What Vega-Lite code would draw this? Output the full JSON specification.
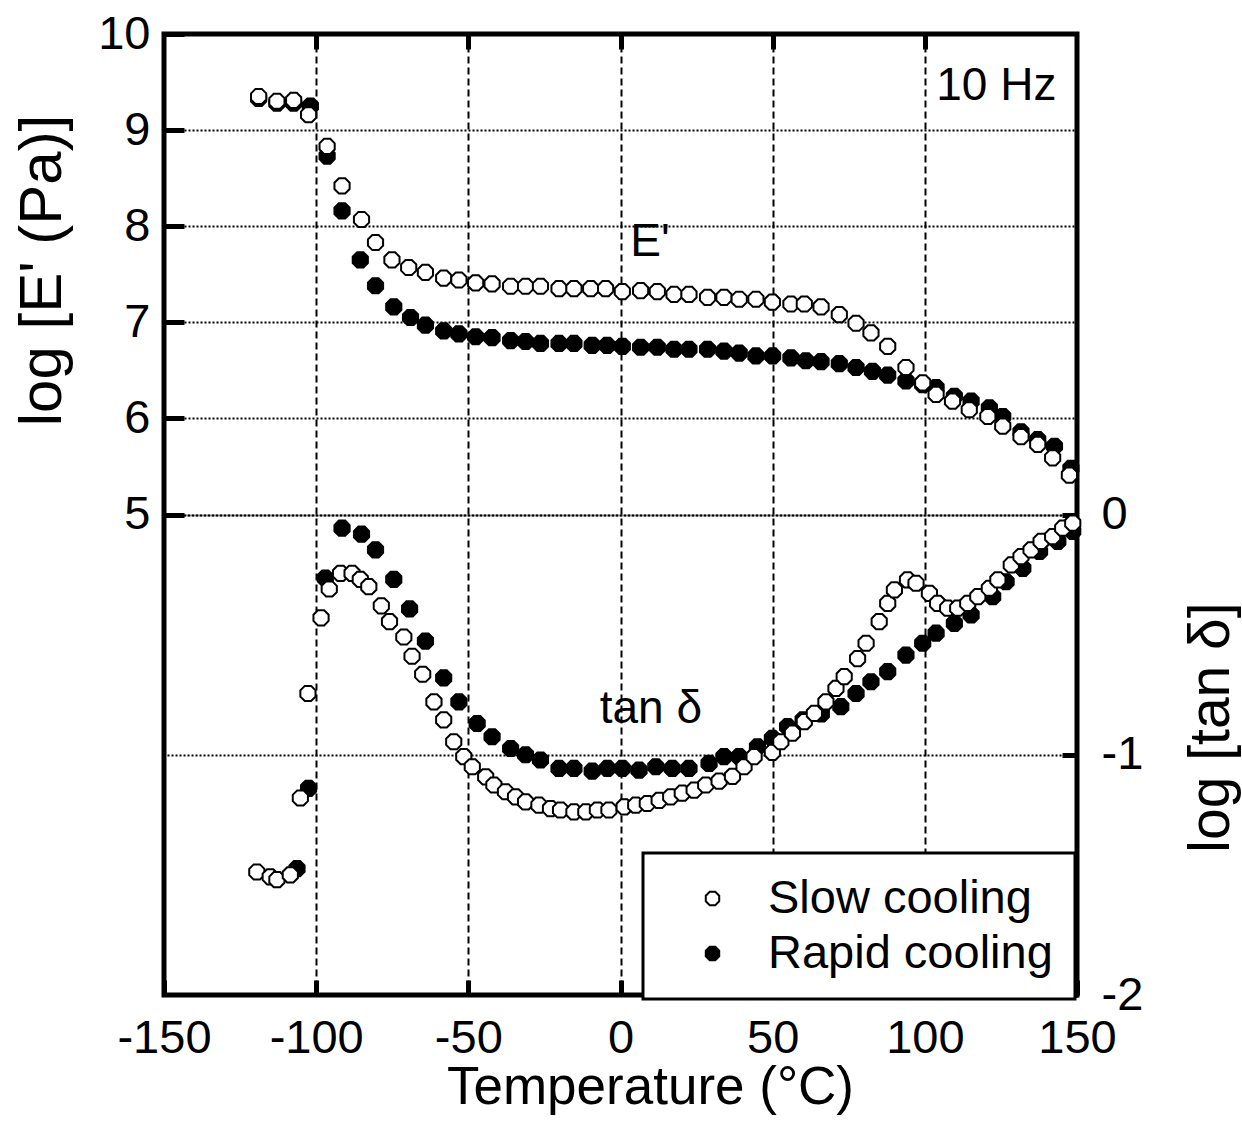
{
  "$schema": "https://vega.github.io/schema/vega-lite/v6.json",
  "width": 913,
  "height": 961,
  "autosize": {"type": "none"},
  "padding": {"left": 164, "top": 34, "right": 165, "bottom": 128},
  "background": "white",
  "config": {
    "font": "Liberation Sans",
    "view": {"stroke": "black", "strokeWidth": 5},
    "axis": {
      "domain": false,
      "labelFont": "Liberation Sans",
      "labelFontSize": 47,
      "labelColor": "black",
      "labelFlush": false,
      "labelOverlap": false,
      "labelExpr": "datum.value + ''",
      "titleFont": "Liberation Sans",
      "titleFontWeight": "normal",
      "titleColor": "black",
      "tickColor": "black",
      "tickWidth": 5,
      "gridColor": "black",
      "gridWidth": 2,
      "gridOpacity": 1
    },
    "legend": {
      "orient": "none",
      "legendX": 479,
      "legendY": 819,
      "fillColor": "white",
      "strokeColor": "black",
      "strokeWidth": 3,
      "padding": 22,
      "labelFont": "Liberation Sans",
      "labelFontSize": 47,
      "labelColor": "black",
      "labelLimit": 0,
      "symbolSize": 180,
      "symbolType": "M-0.414,-1L0.414,-1L1,-0.414L1,0.414L0.414,1L-0.414,1L-1,0.414L-1,-0.414Z",
      "symbolStrokeColor": "black",
      "symbolStrokeWidth": 2,
      "symbolOffset": 24,
      "labelOffset": 32,
      "rowPadding": 7
    }
  },
  "datasets": {
    "E": [
      {"cooling":"Rapid cooling","T":-118.9,"logE":9.33},{"cooling":"Rapid cooling","T":-112.9,"logE":9.28},{"cooling":"Rapid cooling","T":-107.4,"logE":9.28},{"cooling":"Rapid cooling","T":-101.9,"logE":9.25},{"cooling":"Rapid cooling","T":-96.4,"logE":8.73},{"cooling":"Rapid cooling","T":-91.5,"logE":8.16},{"cooling":"Rapid cooling","T":-85.5,"logE":7.65},{"cooling":"Rapid cooling","T":-80.5,"logE":7.38},{"cooling":"Rapid cooling","T":-74.5,"logE":7.16},{"cooling":"Rapid cooling","T":-69.0,"logE":7.05},{"cooling":"Rapid cooling","T":-64.1,"logE":6.97},{"cooling":"Rapid cooling","T":-58.1,"logE":6.91},{"cooling":"Rapid cooling","T":-53.1,"logE":6.88},{"cooling":"Rapid cooling","T":-47.6,"logE":6.85},{"cooling":"Rapid cooling","T":-42.2,"logE":6.84},{"cooling":"Rapid cooling","T":-36.1,"logE":6.81},{"cooling":"Rapid cooling","T":-31.2,"logE":6.80},{"cooling":"Rapid cooling","T":-26.3,"logE":6.78},{"cooling":"Rapid cooling","T":-20.2,"logE":6.78},{"cooling":"Rapid cooling","T":-15.3,"logE":6.78},{"cooling":"Rapid cooling","T":-9.3,"logE":6.76},{"cooling":"Rapid cooling","T":-4.4,"logE":6.76},{"cooling":"Rapid cooling","T":0.6,"logE":6.75},{"cooling":"Rapid cooling","T":6.6,"logE":6.74},{"cooling":"Rapid cooling","T":12.1,"logE":6.74},{"cooling":"Rapid cooling","T":17.6,"logE":6.72},{"cooling":"Rapid cooling","T":22.5,"logE":6.72},{"cooling":"Rapid cooling","T":28.6,"logE":6.72},{"cooling":"Rapid cooling","T":34.0,"logE":6.70},{"cooling":"Rapid cooling","T":39.0,"logE":6.68},{"cooling":"Rapid cooling","T":44.5,"logE":6.65},{"cooling":"Rapid cooling","T":50.0,"logE":6.65},{"cooling":"Rapid cooling","T":56.0,"logE":6.63},{"cooling":"Rapid cooling","T":60.9,"logE":6.60},{"cooling":"Rapid cooling","T":65.9,"logE":6.59},{"cooling":"Rapid cooling","T":71.9,"logE":6.57},{"cooling":"Rapid cooling","T":77.4,"logE":6.53},{"cooling":"Rapid cooling","T":82.8,"logE":6.49},{"cooling":"Rapid cooling","T":87.8,"logE":6.45},{"cooling":"Rapid cooling","T":93.8,"logE":6.39},{"cooling":"Rapid cooling","T":99.3,"logE":6.35},{"cooling":"Rapid cooling","T":103.7,"logE":6.32},{"cooling":"Rapid cooling","T":109.7,"logE":6.23},{"cooling":"Rapid cooling","T":115.2,"logE":6.18},{"cooling":"Rapid cooling","T":121.2,"logE":6.11},{"cooling":"Rapid cooling","T":125.6,"logE":6.02},{"cooling":"Rapid cooling","T":131.6,"logE":5.86},{"cooling":"Rapid cooling","T":137.1,"logE":5.78},{"cooling":"Rapid cooling","T":142.6,"logE":5.71},{"cooling":"Rapid cooling","T":148.0,"logE":5.48},
      {"cooling":"Slow cooling","T":-118.9,"logE":9.35},{"cooling":"Slow cooling","T":-112.9,"logE":9.30},{"cooling":"Slow cooling","T":-107.4,"logE":9.31},{"cooling":"Slow cooling","T":-102.5,"logE":9.16},{"cooling":"Slow cooling","T":-96.4,"logE":8.83},{"cooling":"Slow cooling","T":-91.5,"logE":8.42},{"cooling":"Slow cooling","T":-85.1,"logE":8.07},{"cooling":"Slow cooling","T":-80.5,"logE":7.83},{"cooling":"Slow cooling","T":-75.1,"logE":7.65},{"cooling":"Slow cooling","T":-69.6,"logE":7.57},{"cooling":"Slow cooling","T":-64.1,"logE":7.52},{"cooling":"Slow cooling","T":-58.1,"logE":7.46},{"cooling":"Slow cooling","T":-53.1,"logE":7.44},{"cooling":"Slow cooling","T":-47.6,"logE":7.41},{"cooling":"Slow cooling","T":-42.2,"logE":7.40},{"cooling":"Slow cooling","T":-36.1,"logE":7.375},{"cooling":"Slow cooling","T":-31.2,"logE":7.375},{"cooling":"Slow cooling","T":-26.3,"logE":7.375},{"cooling":"Slow cooling","T":-20.2,"logE":7.35},{"cooling":"Slow cooling","T":-15.3,"logE":7.35},{"cooling":"Slow cooling","T":-9.8,"logE":7.35},{"cooling":"Slow cooling","T":-4.9,"logE":7.35},{"cooling":"Slow cooling","T":0.6,"logE":7.32},{"cooling":"Slow cooling","T":6.6,"logE":7.33},{"cooling":"Slow cooling","T":12.1,"logE":7.32},{"cooling":"Slow cooling","T":17.6,"logE":7.29},{"cooling":"Slow cooling","T":22.5,"logE":7.29},{"cooling":"Slow cooling","T":28.6,"logE":7.26},{"cooling":"Slow cooling","T":34.0,"logE":7.26},{"cooling":"Slow cooling","T":39.0,"logE":7.24},{"cooling":"Slow cooling","T":44.5,"logE":7.24},{"cooling":"Slow cooling","T":49.9,"logE":7.21},{"cooling":"Slow cooling","T":56.0,"logE":7.19},{"cooling":"Slow cooling","T":60.4,"logE":7.19},{"cooling":"Slow cooling","T":65.9,"logE":7.16},{"cooling":"Slow cooling","T":71.9,"logE":7.08},{"cooling":"Slow cooling","T":77.4,"logE":6.99},{"cooling":"Slow cooling","T":82.3,"logE":6.89},{"cooling":"Slow cooling","T":87.8,"logE":6.75},{"cooling":"Slow cooling","T":93.8,"logE":6.53},{"cooling":"Slow cooling","T":99.3,"logE":6.37},{"cooling":"Slow cooling","T":103.7,"logE":6.25},{"cooling":"Slow cooling","T":109.1,"logE":6.18},{"cooling":"Slow cooling","T":114.6,"logE":6.09},{"cooling":"Slow cooling","T":120.7,"logE":6.02},{"cooling":"Slow cooling","T":125.6,"logE":5.92},{"cooling":"Slow cooling","T":131.6,"logE":5.81},{"cooling":"Slow cooling","T":137.1,"logE":5.73},{"cooling":"Slow cooling","T":142.0,"logE":5.59},{"cooling":"Slow cooling","T":147.5,"logE":5.41}
    ],
    "tan": [
      {"cooling":"Rapid cooling","T":-106.3,"logtan":-1.474},{"cooling":"Rapid cooling","T":-102.5,"logtan":-1.14},{"cooling":"Rapid cooling","T":-97.0,"logtan":-0.265},{"cooling":"Rapid cooling","T":-91.5,"logtan":-0.057},{"cooling":"Rapid cooling","T":-85.1,"logtan":-0.082},{"cooling":"Rapid cooling","T":-80.5,"logtan":-0.147},{"cooling":"Rapid cooling","T":-74.5,"logtan":-0.27},{"cooling":"Rapid cooling","T":-69.3,"logtan":-0.393},{"cooling":"Rapid cooling","T":-64.1,"logtan":-0.527},{"cooling":"Rapid cooling","T":-58.1,"logtan":-0.68},{"cooling":"Rapid cooling","T":-53.1,"logtan":-0.78},{"cooling":"Rapid cooling","T":-47.1,"logtan":-0.87},{"cooling":"Rapid cooling","T":-42.2,"logtan":-0.925},{"cooling":"Rapid cooling","T":-36.1,"logtan":-0.974},{"cooling":"Rapid cooling","T":-31.2,"logtan":-1.0},{"cooling":"Rapid cooling","T":-26.3,"logtan":-1.022},{"cooling":"Rapid cooling","T":-20.2,"logtan":-1.057},{"cooling":"Rapid cooling","T":-15.3,"logtan":-1.057},{"cooling":"Rapid cooling","T":-9.3,"logtan":-1.068},{"cooling":"Rapid cooling","T":-4.3,"logtan":-1.057},{"cooling":"Rapid cooling","T":0.6,"logtan":-1.057},{"cooling":"Rapid cooling","T":6.1,"logtan":-1.064},{"cooling":"Rapid cooling","T":11.6,"logtan":-1.05},{"cooling":"Rapid cooling","T":17.0,"logtan":-1.057},{"cooling":"Rapid cooling","T":22.5,"logtan":-1.057},{"cooling":"Rapid cooling","T":29.1,"logtan":-1.036},{"cooling":"Rapid cooling","T":34.0,"logtan":-1.008},{"cooling":"Rapid cooling","T":39.0,"logtan":-1.008},{"cooling":"Rapid cooling","T":45.0,"logtan":-0.967},{"cooling":"Rapid cooling","T":49.9,"logtan":-0.932},{"cooling":"Rapid cooling","T":54.9,"logtan":-0.883},{"cooling":"Rapid cooling","T":60.0,"logtan":-0.855},{"cooling":"Rapid cooling","T":66.0,"logtan":-0.83},{"cooling":"Rapid cooling","T":72.4,"logtan":-0.8},{"cooling":"Rapid cooling","T":77.4,"logtan":-0.745},{"cooling":"Rapid cooling","T":82.3,"logtan":-0.696},{"cooling":"Rapid cooling","T":87.8,"logtan":-0.654},{"cooling":"Rapid cooling","T":93.8,"logtan":-0.585},{"cooling":"Rapid cooling","T":99.3,"logtan":-0.536},{"cooling":"Rapid cooling","T":103.7,"logtan":-0.494},{"cooling":"Rapid cooling","T":109.7,"logtan":-0.453},{"cooling":"Rapid cooling","T":115.2,"logtan":-0.418},{"cooling":"Rapid cooling","T":122.3,"logtan":-0.342},{"cooling":"Rapid cooling","T":126.7,"logtan":-0.28},{"cooling":"Rapid cooling","T":132.2,"logtan":-0.224},{"cooling":"Rapid cooling","T":137.7,"logtan":-0.154},{"cooling":"Rapid cooling","T":143.7,"logtan":-0.112},{"cooling":"Rapid cooling","T":148.6,"logtan":-0.07},
      {"cooling":"Slow cooling","T":-119.5,"logtan":-1.488},{"cooling":"Slow cooling","T":-115.1,"logtan":-1.508},{"cooling":"Slow cooling","T":-112.9,"logtan":-1.52},{"cooling":"Slow cooling","T":-108.5,"logtan":-1.5},{"cooling":"Slow cooling","T":-105.2,"logtan":-1.18},{"cooling":"Slow cooling","T":-102.7,"logtan":-0.745},{"cooling":"Slow cooling","T":-98.4,"logtan":-0.43},{"cooling":"Slow cooling","T":-95.7,"logtan":-0.31},{"cooling":"Slow cooling","T":-92.0,"logtan":-0.245},{"cooling":"Slow cooling","T":-88.2,"logtan":-0.245},{"cooling":"Slow cooling","T":-85.5,"logtan":-0.27},{"cooling":"Slow cooling","T":-82.7,"logtan":-0.3},{"cooling":"Slow cooling","T":-78.6,"logtan":-0.38},{"cooling":"Slow cooling","T":-75.9,"logtan":-0.446},{"cooling":"Slow cooling","T":-71.2,"logtan":-0.51},{"cooling":"Slow cooling","T":-68.5,"logtan":-0.59},{"cooling":"Slow cooling","T":-65.0,"logtan":-0.665},{"cooling":"Slow cooling","T":-61.3,"logtan":-0.78},{"cooling":"Slow cooling","T":-58.1,"logtan":-0.855},{"cooling":"Slow cooling","T":-54.8,"logtan":-0.946},{"cooling":"Slow cooling","T":-51.5,"logtan":-1.008},{"cooling":"Slow cooling","T":-48.7,"logtan":-1.05},{"cooling":"Slow cooling","T":-44.3,"logtan":-1.092},{"cooling":"Slow cooling","T":-41.6,"logtan":-1.126},{"cooling":"Slow cooling","T":-37.8,"logtan":-1.154},{"cooling":"Slow cooling","T":-34.5,"logtan":-1.175},{"cooling":"Slow cooling","T":-31.2,"logtan":-1.196},{"cooling":"Slow cooling","T":-26.8,"logtan":-1.21},{"cooling":"Slow cooling","T":-23.0,"logtan":-1.224},{"cooling":"Slow cooling","T":-19.7,"logtan":-1.23},{"cooling":"Slow cooling","T":-15.3,"logtan":-1.238},{"cooling":"Slow cooling","T":-11.4,"logtan":-1.238},{"cooling":"Slow cooling","T":-7.6,"logtan":-1.23},{"cooling":"Slow cooling","T":-3.8,"logtan":-1.23},{"cooling":"Slow cooling","T":1.2,"logtan":-1.217},{"cooling":"Slow cooling","T":5.0,"logtan":-1.21},{"cooling":"Slow cooling","T":8.8,"logtan":-1.203},{"cooling":"Slow cooling","T":12.7,"logtan":-1.19},{"cooling":"Slow cooling","T":16.5,"logtan":-1.175},{"cooling":"Slow cooling","T":20.3,"logtan":-1.16},{"cooling":"Slow cooling","T":24.2,"logtan":-1.147},{"cooling":"Slow cooling","T":28.0,"logtan":-1.126},{"cooling":"Slow cooling","T":32.4,"logtan":-1.11},{"cooling":"Slow cooling","T":36.8,"logtan":-1.09},{"cooling":"Slow cooling","T":40.6,"logtan":-1.05},{"cooling":"Slow cooling","T":43.9,"logtan":-1.008},{"cooling":"Slow cooling","T":49.9,"logtan":-0.99},{"cooling":"Slow cooling","T":52.7,"logtan":-0.946},{"cooling":"Slow cooling","T":56.5,"logtan":-0.91},{"cooling":"Slow cooling","T":60.4,"logtan":-0.862},{"cooling":"Slow cooling","T":63.7,"logtan":-0.828},{"cooling":"Slow cooling","T":67.5,"logtan":-0.78},{"cooling":"Slow cooling","T":70.8,"logtan":-0.724},{"cooling":"Slow cooling","T":73.5,"logtan":-0.675},{"cooling":"Slow cooling","T":77.9,"logtan":-0.6},{"cooling":"Slow cooling","T":80.7,"logtan":-0.536},{"cooling":"Slow cooling","T":85.0,"logtan":-0.446},{"cooling":"Slow cooling","T":87.8,"logtan":-0.37},{"cooling":"Slow cooling","T":90.0,"logtan":-0.314},{"cooling":"Slow cooling","T":94.3,"logtan":-0.272},{"cooling":"Slow cooling","T":97.1,"logtan":-0.286},{"cooling":"Slow cooling","T":101.5,"logtan":-0.328},{"cooling":"Slow cooling","T":104.2,"logtan":-0.37},{"cooling":"Slow cooling","T":107.5,"logtan":-0.39},{"cooling":"Slow cooling","T":110.8,"logtan":-0.39},{"cooling":"Slow cooling","T":114.1,"logtan":-0.37},{"cooling":"Slow cooling","T":117.4,"logtan":-0.342},{"cooling":"Slow cooling","T":121.2,"logtan":-0.307},{"cooling":"Slow cooling","T":124.0,"logtan":-0.272},{"cooling":"Slow cooling","T":128.4,"logtan":-0.21},{"cooling":"Slow cooling","T":131.6,"logtan":-0.175},{"cooling":"Slow cooling","T":134.9,"logtan":-0.147},{"cooling":"Slow cooling","T":138.2,"logtan":-0.112},{"cooling":"Slow cooling","T":142.0,"logtan":-0.092},{"cooling":"Slow cooling","T":145.3,"logtan":-0.057},{"cooling":"Slow cooling","T":148.6,"logtan":-0.036}
    ],
    "labelsE": [
      {"T": 123.5, "logE": 9.46, "text": "10 Hz"},
      {"T": 9.7, "logE": 7.84, "text": "E'"}
    ],
    "labelsTan": [
      {"T": 10, "logtan": -0.81, "text": "tan δ"}
    ]
  },
  "layer": [
    {
      "layer": [
        {
          "data": {"name": "E"},
          "mark": {"type": "point", "shape": "M-0.414,-1L0.414,-1L1,-0.414L1,0.414L0.414,1L-0.414,1L-1,0.414L-1,-0.414Z", "filled": true, "stroke": "black", "strokeWidth": 2, "size": 230, "opacity": 1},
          "encoding": {
            "x": {"field": "T", "type": "quantitative", "scale": {"domain": [-150, 150], "nice": false, "zero": false},
              "axis": {"orient": "bottom", "values": [-150, -100, -50, 0, 50, 100, 150], "tickSize": -15, "labelPadding": 35, "grid": true, "gridDash": [7, 4],
                "title": "Temperature (°C)", "titleFontSize": 53, "titleX": 486, "titleY": 92, "titleAlign": "center", "titleBaseline": "middle"}},
            "y": {"field": "logE", "type": "quantitative", "scale": {"domain": [0, 10], "nice": false, "zero": false},
              "axis": {"orient": "left", "values": [5, 6, 7, 8, 9, 10], "tickSize": -20, "labelPadding": 34, "grid": true, "gridDash": [2, 2],
                "title": "log [E' (Pa)]", "titleFontSize": 60, "titleAngle": 270, "titleX": -122, "titleY": 236, "titleAlign": "center", "titleBaseline": "middle"}},
            "fill": {"field": "cooling", "type": "nominal", "scale": {"domain": ["Slow cooling", "Rapid cooling"], "range": ["white", "black"]}, "legend": {"title": null}}
          }
        },
        {
          "data": {"name": "labelsE"},
          "mark": {"type": "text", "font": "Liberation Sans", "fontSize": 46, "color": "black", "align": "center", "baseline": "middle"},
          "encoding": {
            "x": {"field": "T", "type": "quantitative"},
            "y": {"field": "logE", "type": "quantitative"},
            "text": {"field": "text"}
          }
        }
      ]
    },
    {
      "layer": [
        {
          "data": {"name": "tan"},
          "mark": {"type": "point", "shape": "M-0.414,-1L0.414,-1L1,-0.414L1,0.414L0.414,1L-0.414,1L-1,0.414L-1,-0.414Z", "filled": true, "stroke": "black", "strokeWidth": 2, "size": 230, "opacity": 1},
          "encoding": {
            "x": {"field": "T", "type": "quantitative",
              "axis": {"orient": "top", "values": [-100, -50, 0, 50, 100], "tickSize": -15, "labels": false, "grid": false, "title": null}},
            "y": {"field": "logtan", "type": "quantitative", "scale": {"domain": [-2, 2], "nice": false, "zero": false},
              "axis": {"orient": "right", "values": [-2, -1, 0], "tickSize": -15, "labelPadding": 39, "grid": true, "gridDash": [2, 2],
                "title": "log [tan δ]", "titleFontSize": 57, "titleAngle": 270, "titleX": 134, "titleY": 693, "titleAlign": "center", "titleBaseline": "middle"}},
            "fill": {"field": "cooling", "type": "nominal"}
          }
        },
        {
          "data": {"name": "labelsTan"},
          "mark": {"type": "text", "font": "Liberation Sans", "fontSize": 46, "color": "black", "align": "center", "baseline": "middle"},
          "encoding": {
            "x": {"field": "T", "type": "quantitative"},
            "y": {"field": "logtan", "type": "quantitative"},
            "text": {"field": "text"}
          }
        }
      ]
    }
  ],
  "resolve": {"scale": {"y": "independent"}, "axis": {"x": "independent"}}
}
